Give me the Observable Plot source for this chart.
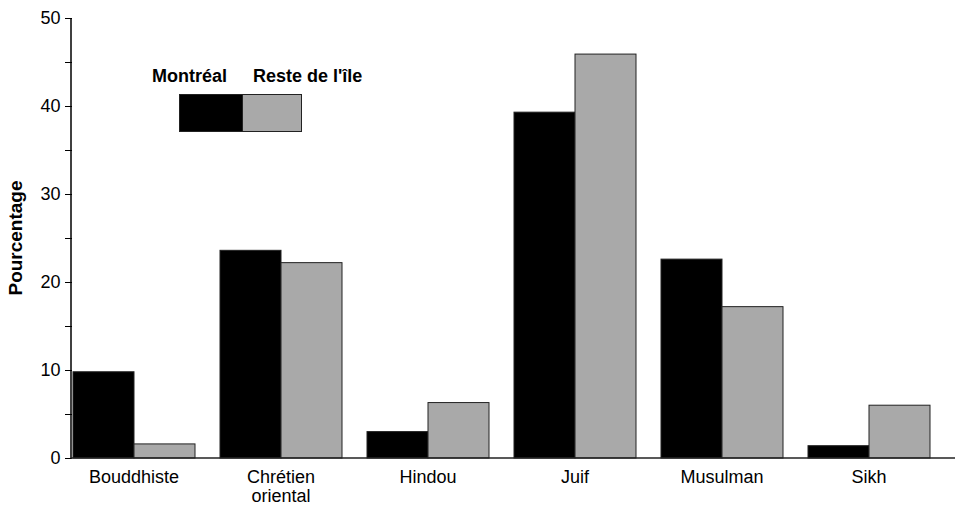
<!DOCTYPE html>
<html>
<head>
<meta charset="utf-8">
<script src="https://cdn.jsdelivr.net/npm/d3@7"></script>
<script src="https://cdn.jsdelivr.net/npm/@observablehq/plot@0.6"></script>
<style>
  html, body { margin: 0; padding: 0; background: #fff; }
  #wrap { position: relative; width: 962px; height: 507px; font-family: "Liberation Sans", Arial, Helvetica, sans-serif; }
  .lg-text { position: absolute; font-weight: bold; font-size: 18px; line-height: 18px; color: #000; white-space: nowrap; }
  .lg-box { position: absolute; box-sizing: border-box; }
</style>
</head>
<body>
<div id="wrap"></div>
<script>
const categories = ["Bouddhiste", "Chrétien\noriental", "Hindou", "Juif", "Musulman", "Sikh"];
const series = ["Montréal", "Reste de l'île"];
const montreal = [9.8, 23.6, 3.0, 39.3, 22.6, 1.4];
const resteIle = [1.6, 22.2, 6.3, 45.9, 17.2, 6.0];
const yTicks = [0, 5, 10, 15, 20, 25, 30, 35, 40, 45, 50];
const yTickLabels = [0, 10, 20, 30, 40, 50];
const yTitle = "Pourcentage";
const colors = ["#000000", "#a9a9a9"];

const data = categories.flatMap((c, i) => [
  {cat: c, serie: series[0], v: montreal[i]},
  {cat: c, serie: series[1], v: resteIle[i]}
]);

const W = 962, H = 507, mL = 71, mR = 30, mT = 18, mB = 49;

const chart = Plot.plot({
  width: W, height: H,
  marginLeft: mL, marginRight: mR, marginTop: mT, marginBottom: mB,
  style: {fontFamily: "'Liberation Sans', Arial, Helvetica, sans-serif", fontSize: "18px", color: "#000", background: "#fff", overflow: "visible"},
  facet: {data, x: "cat", label: null},
  fx: {domain: categories, paddingInner: 0.163, paddingOuter: 0, label: null, tickSize: 0, tickPadding: 12},
  x: {domain: series, padding: 0, axis: null},
  y: {domain: [0, 50], ticks: yTicks, tickFormat: d => yTickLabels.includes(d) ? String(d) : "", tickSize: 7, tickPadding: 5, label: null},
  color: {domain: series, range: colors},
  marks: [
    Plot.barY(data, {x: "serie", y: "v", fill: "serie", stroke: "#222", strokeWidth: 1})
  ]
});

const wrap = document.getElementById("wrap");
wrap.appendChild(chart);

// loosen multi-line category labels slightly
d3.select(chart).selectAll("text").each(function () {
  const ts = d3.select(this).selectAll("tspan");
  if (ts.size() > 1) ts.each(function (_, i) { if (i > 0) d3.select(this).attr("dy", "1.05em"); });
});

// axis lines using the plot's own y scale
const ys = chart.scale("y");
const yf = d3.scaleLinear(ys.domain, ys.range);
const svg = d3.select(chart);
svg.append("line")
  .attr("x1", mL).attr("x2", mL).attr("y1", yf(50)).attr("y2", yf(0))
  .attr("stroke", "#000").attr("stroke-width", 1.5);
svg.append("line")
  .attr("x1", mL).attr("x2", W - 7).attr("y1", yf(0)).attr("y2", yf(0))
  .attr("stroke", "#222").attr("stroke-width", 1.5);
svg.append("text")
  .attr("transform", `translate(22,${(yf(50) + yf(0)) / 2}) rotate(-90)`)
  .attr("text-anchor", "middle")
  .attr("font-weight", "bold")
  .attr("font-size", 19)
  .attr("fill", "#000")
  .text(yTitle);

// legend
function addText(t, left, top) {
  const d = document.createElement("div");
  d.className = "lg-text"; d.textContent = t;
  d.style.left = left + "px"; d.style.top = top + "px";
  wrap.appendChild(d);
}
function addBox(left, top, w, h, fill) {
  const d = document.createElement("div");
  d.className = "lg-box";
  d.style.left = left + "px"; d.style.top = top + "px";
  d.style.width = w + "px"; d.style.height = h + "px";
  d.style.background = fill; d.style.border = "1px solid #222";
  wrap.appendChild(d);
}
addText(series[0], 152, 67);
addText(series[1], 253, 67);
addBox(179, 94, 64, 38, colors[0]);
addBox(242, 94, 60, 38, colors[1]);
</script>
</body>
</html>
